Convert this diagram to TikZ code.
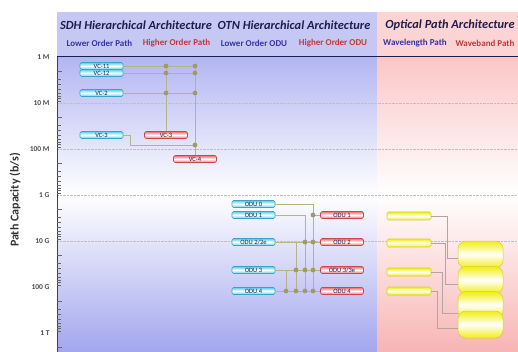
\documentclass[tikz,border=0pt]{standalone}
\usepackage{fontspec}
\setmainfont{Carlito}
\usepackage{xcolor}
\usepackage{tikz}
\definecolor{navy}{HTML}{1E1E4E}
\definecolor{lowblue}{HTML}{3434A4}
\definecolor{highred}{HTML}{BE3A3A}
\definecolor{panelblue}{HTML}{C6C8F4}
\definecolor{bodyblue}{HTML}{B2B6F2}
\definecolor{deepblue}{HTML}{A2A6EE}
\definecolor{panelpink}{HTML}{FCD4D4}
\definecolor{bodypink}{HTML}{FCC6C6}
\definecolor{deeppink}{HTML}{F8B4B4}
\definecolor{cyanbox}{HTML}{58CAEA}
\definecolor{cyanedge}{HTML}{36A6C8}
\definecolor{redbox}{HTML}{EE6A6A}
\definecolor{rededge}{HTML}{CE4646}
\definecolor{yelbox}{HTML}{F2EE10}
\definecolor{yeledge}{HTML}{D6CE3A}
\definecolor{linkline}{HTML}{B8B288}
\definecolor{linkdot}{HTML}{A29A66}
\definecolor{bandline}{HTML}{B4A4A4}

\begin{document}
\begin{tikzpicture}[x=1pt,y=-1pt,
  lobox/.style={draw=cyanedge,line width=0.6pt,top color=cyanbox,bottom color=cyanbox,middle color=white,
    rounded corners=1.5pt,minimum width=43pt,minimum height=7pt,inner sep=0pt,
    font=\fontsize{6.5}{6.5}\selectfont,text=navy},
  hibox/.style={lobox,draw=rededge,top color=redbox,bottom color=redbox,middle color=white},
  wavebox/.style={lobox,draw=yeledge,top color=yelbox,bottom color=yelbox,middle color=white,minimum height=8pt,minimum width=44pt},
  bandbox/.style={draw=yeledge,line width=0.5pt,top color=yelbox,bottom color=yelbox,middle color=white,
    rounded corners=8pt,minimum width=45pt,minimum height=27pt,inner sep=0pt},
  link/.style={linkline,line width=0.9pt},
  band/.style={bandline,line width=0.6pt},
  title/.style={font=\fontsize{12.4}{12.4}\selectfont\bfseries\itshape,text=navy},
  sublo/.style={font=\fontsize{9}{9}\selectfont\bfseries,text=lowblue},
  subhi/.style={font=\fontsize{9}{9}\selectfont\bfseries,text=highred},
  decade/.style={anchor=east,font=\fontsize{7.5}{7.5}\selectfont\bfseries,text=black!70}]
\useasboundingbox (0,0) rectangle (518,352);

\fill[panelblue] (57,12) rectangle (377,57);
\fill[panelpink] (377,12) rectangle (518,57);
\shade[top color=bodyblue,bottom color=white] (57,57) rectangle (377,195);
\shade[top color=white,bottom color=deepblue] (57,195) rectangle (377,352);
\shade[top color=bodypink,bottom color=white] (377,57) rectangle (518,195);
\shade[top color=white,bottom color=deeppink] (377,195) rectangle (518,352);
\foreach \d in {1,...,4}
  \draw[black!25,densely dotted] (57,57+46*\d) -- (518,57+46*\d);
\draw[navy,line width=1pt] (57,57) -- (518,57);

\draw[black!75,line width=0.8pt] (57,57) -- (57,352);
\foreach \d/\lab in {0/1 M,1/10 M,2/100 M,3/1 G,4/10 G,5/100 G,6/1 T} {
  \node[decade] at (53,57+46*\d) {\lab};
  \draw[black!60,line width=0.5pt] (57,57+46*\d+13.8) -- ++(5,0);
  \foreach \k in {3,...,9}
    \draw[black!60,line width=0.4pt] (57,{57+46*(\d+log10(\k))}) -- ++(3.5,0);
}
\node[rotate=90,font=\fontsize{12}{12}\selectfont\bfseries,text=black!80] at (15,200) {Path Capacity (b/s)};

\node[title] at (136,25) {SDH Hierarchical Architecture};
\node[title] at (294,25) {OTN Hierarchical Architecture};
\node[title] at (450,25) {Optical Path Architecture};
\node[sublo] at (99.5,43) {Lower Order Path};
\node[subhi] at (176.5,43) {Higher Order Path};
\node[sublo] at (254,43) {Lower Order ODU};
\node[subhi] at (333,43) {Higher Order ODU};
\node[sublo] at (415,43) {Wavelength Path};
\node[subhi] at (485,43) {Waveband Path};

\node[lobox] (vc11) at (101.5,66) {VC-11};
\node[lobox] (vc12) at (101.5,73) {VC-12};
\node[lobox] (vc2) at (101.5,93) {VC-2};
\node[lobox] (vc3lo) at (101.5,135) {VC-3};
\node[hibox] (vc3hi) at (166,135) {VC-3};
\node[hibox] (vc4) at (195,159) {VC-4};
\coordinate (a1) at (166,66);
\coordinate (a2) at (166,73);
\coordinate (a3) at (166,93);
\coordinate (b1) at (195,66);
\coordinate (b2) at (195,73);
\coordinate (b3) at (195,93);
\coordinate (b4) at (195,145);
\draw[link] (vc11.east) -- (b1);
\draw[link] (vc12.east) -- (b2);
\draw[link] (vc2.east) -- (b3);
\draw[link] (vc3lo.east) -- ++(7,0) |- (b4);
\draw[link] (a1) -- (vc3hi.north);
\draw[link] (b1) -- (vc4.north);
\foreach \j in {a1,a2,a3,b1,b2,b3,b4}
  \fill[linkdot] (\j) circle (2.4);

\node[lobox] (odu0) at (253.5,204) {ODU 0};
\node[lobox] (odu1lo) at (253.5,215) {ODU 1};
\node[lobox] (odu2lo) at (253.5,242) {ODU 2/2e};
\node[lobox] (odu3lo) at (253.5,270) {ODU 3};
\node[lobox] (odu4lo) at (253.5,291) {ODU 4};
\node[hibox] (odu1hi) at (342,215) {ODU 1};
\node[hibox] (odu2hi) at (342,242) {ODU 2};
\node[hibox] (odu3hi) at (342,270) {ODU 3/3e};
\node[hibox] (odu4hi) at (342,291) {ODU 4};
\coordinate (k41) at (313,215);
\coordinate (k22) at (296,242);
\coordinate (k32) at (305,242);
\coordinate (k42) at (313,242);
\coordinate (k13) at (286,270);
\coordinate (k23) at (296,270);
\coordinate (k33) at (305,270);
\coordinate (k43) at (313,270);
\coordinate (k14) at (286,291);
\coordinate (k24) at (296,291);
\coordinate (k34) at (305,291);
\coordinate (k44) at (313,291);
\draw[link] (odu0.east) -| (k44);
\draw[link] (odu1lo.east) -| (k34);
\draw[link] (odu2lo.east) -| (k24);
\draw[link] (odu3lo.east) -| (k14);
\draw[link] (odu4lo.east) -- (odu4hi.west);
\draw[link] (k41) -- (odu1hi.west);
\draw[link] (k22) -- (odu2hi.west);
\draw[link] (k13) -- (odu3hi.west);
\foreach \j in {k41,k32,k42,k23,k33,k43,k14,k24,k34,k44}
  \fill[linkdot] (\j) circle (2.4);

\node[wavebox] (w1) at (409,216) {};
\node[wavebox] (w2) at (409,243) {};
\node[wavebox] (w3) at (409,272) {};
\node[wavebox] (w4) at (409,291) {};
\node[bandbox] (wb1) at (480.5,254.5) {};
\node[bandbox] (wb2) at (480.5,280) {};
\node[bandbox] (wb3) at (480.5,305) {};
\node[bandbox] (wb4) at (480.5,324.5) {};
\coordinate (in1) at (458,258);
\coordinate (in2) at (458,284);
\coordinate (in3) at (458,313);
\coordinate (in4) at (458,328);
\draw[band] (w1.east) -- ++(16,0) |- (in1);
\draw[band] (w2.east) -- ++(14,0) |- (in2);
\draw[band] (w3.east) -- ++(11,0) |- (in3);
\draw[band] (w4.east) -- ++(6,0) |- (in4);
\end{tikzpicture}
\end{document}
